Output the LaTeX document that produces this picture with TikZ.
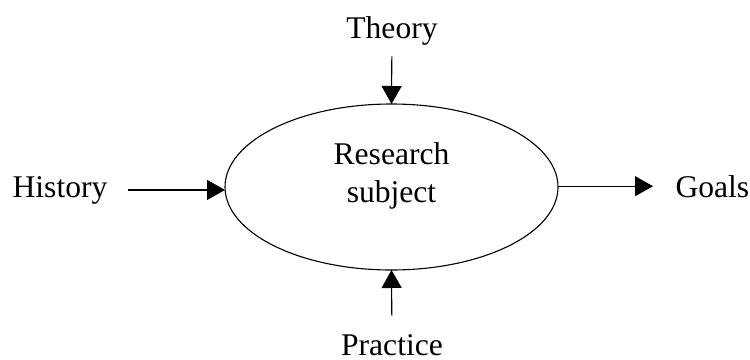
\documentclass[tikz,border=0pt]{standalone}
\usepackage{fontspec}
\setmainfont{Liberation Serif}
\usetikzlibrary{arrows.meta,shapes.geometric}
\begin{document}
\begin{tikzpicture}[x=0.5pt,y=-0.5pt,>={Triangle[length=9pt,width=10pt]},
        line width=0.55pt, font=\fontsize{15.8}{19}\selectfont,
        word/.style={inner sep=0pt}]
        \useasboundingbox (0,0) rectangle (750,359);

        % Ellipse in the middle
        \node[draw, ellipse, outer sep=0pt, minimum width=166.5pt, minimum height=83pt,
              align=center, text depth=14.5pt] (subject) at (391.5,187) {Research\\subject};

        % Labels round it
        \node[word, anchor=base] (theory) at (392,38) {Theory};
        \node[word, anchor=base] (practice) at (392,355) {Practice};
        \node[word, anchor=base east] (history) at (108,197) {History};
        \node[word, anchor=base west] (goals) at (675,197) {Goals};

        % Arrows in and out
        \draw[->, shorten <=5.5pt] (theory) -- (subject.north);
        \draw[->, shorten <=9pt] (practice) -- (subject.south);
        \draw[->, shorten <=10pt] (history.east) -- (history.east -| subject.west);
        \draw[->, shorten >=11pt] (goals.west -| subject.east) -- (goals.west);
\end{tikzpicture}
\end{document}
